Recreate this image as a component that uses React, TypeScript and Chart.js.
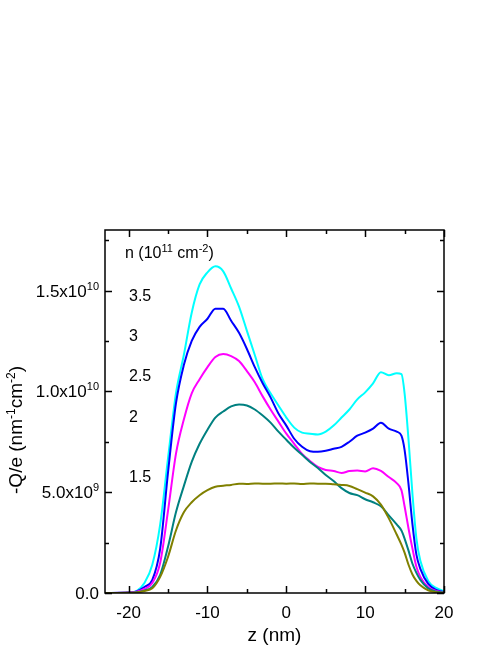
import { useEffect, useRef } from "react";
import { Chart, registerables } from "chart.js";

Chart.register(...registerables);

// z positions (nm), shared by all curves
const Z = [-23, -20, -19, -18, -17, -16, -15, -14, -13, -12, -11, -10, -9, -8, -7, -6, -5, -4, -3, -2, -1, 0,
  1, 2, 3, 4, 5, 6, 7, 8, 9, 10, 11, 12, 13, 14,
  14.6, 15, 15.5, 16, 16.5, 17, 18, 19, 20];

// -Q/e values in units of 1e9 nm^-1 cm^-2
const Q_15 = [0, 0.01, 0.03, 0.1, 0.23, 0.8, 1.8, 3.1, 4.0, 4.5, 4.85, 5.1, 5.27, 5.32, 5.36, 5.42, 5.41, 5.43, 5.42, 5.42, 5.43, 5.42,
  5.43, 5.41, 5.43, 5.42, 5.42, 5.39, 5.36, 5.31, 5.15, 4.98, 4.79, 4.38, 3.7, 2.9,
  2.4, 2.0, 1.4, 0.92, 0.6, 0.38, 0.13, 0.04, 0.01];
const Q_20 = [0, 0.01, 0.04, 0.12, 0.3, 0.9, 2.3, 4.0, 5.3, 6.5, 7.4, 8.1, 8.7, 9.0, 9.25, 9.35, 9.3, 9.1, 8.8, 8.45, 8.0, 7.6,
  7.2, 6.85, 6.5, 6.2, 5.85, 5.55, 5.2, 4.96, 4.85, 4.65, 4.5, 4.3, 3.85, 3.4,
  3.1, 2.7, 2.1, 1.45, 1.0, 0.65, 0.23, 0.07, 0.02];
const Q_25 = [0, 0.02, 0.06, 0.2, 0.5, 1.5, 4.1, 6.9, 8.6, 9.9, 10.6, 11.2, 11.7, 11.85, 11.75, 11.5, 11.0, 10.45, 9.75, 9.1, 8.5, 7.9,
  7.4, 6.9, 6.55, 6.25, 6.1, 6.05, 5.95, 6.05, 6.07, 6.03, 6.18, 6.05, 5.75, 5.45,
  5.1, 4.3, 3.2, 2.2, 1.3, 0.8, 0.3, 0.1, 0.03];
const Q_30 = [0, 0.02, 0.08, 0.3, 0.65, 2.2, 6.0, 9.4, 11.3, 12.5, 13.2, 13.6, 14.1, 14.1, 13.5, 12.9, 12.1, 11.2, 10.4, 9.7, 8.9, 8.3,
  7.65, 7.25, 7.03, 7.0, 7.05, 7.15, 7.25, 7.5, 7.8, 7.95, 8.15, 8.44, 8.15, 8.0,
  7.8, 7.1, 5.4, 3.4, 1.9, 1.2, 0.45, 0.15, 0.05];
const Q_35 = [0, 0.02, 0.1, 0.5, 1.4, 3.4, 6.7, 9.9, 11.8, 13.9, 15.3, 15.9, 16.2, 15.95, 15.1, 14.2, 13.0, 11.8, 10.6, 9.9, 9.3, 8.7,
  8.2, 7.95, 7.9, 7.86, 8.0, 8.3, 8.7, 9.1, 9.6, 9.95, 10.4, 10.95, 10.8, 10.9,
  10.85, 9.9, 7.6, 4.9, 2.7, 1.6, 0.6, 0.25, 0.1];

const DENSITY_LABELS = ["1.5", "2", "2.5", "3", "3.5"];
const X_MAJOR = [-20, -10, 0, 10, 20];
const X_MINOR = [-15, -5, 5, 15];
const X_TICK_TEXT = ["-20", "-10", "0", "10", "20"];
const Y_MAJOR = [0, 5, 10, 15];
const Y_MINOR = [2.5, 7.5, 12.5, 17.5];
const Y_TICK_MANTISSA = ["0.0", "5.0x10", "1.0x10", "1.5x10"];
const Y_TICK_EXP = ["", "9", "10", "10"];

const FONT = '"Liberation Sans", Arial, Helvetica, sans-serif';

type Part = { t: string; sup?: boolean };

function drawRich(
  ctx: CanvasRenderingContext2D,
  parts: Part[],
  x: number,
  y: number,
  align: "left" | "center" | "right",
  size: number,
  supSize: number,
  raise: number
) {
  let total = 0;
  const widths: number[] = [];
  for (const p of parts) {
    ctx.font = `${p.sup ? supSize : size}px ${FONT}`;
    const w = ctx.measureText(p.t).width;
    widths.push(w);
    total += w;
  }
  let cx = align === "left" ? x : align === "center" ? x - total / 2 : x - total;
  ctx.textAlign = "left";
  ctx.textBaseline = "alphabetic";
  parts.forEach((p, i) => {
    ctx.font = `${p.sup ? supSize : size}px ${FONT}`;
    ctx.fillText(p.t, cx, p.sup ? y - raise : y);
    cx += widths[i];
  });
}

const framePlugin = {
  id: "framePlugin",
  afterDraw(chart: any) {
    const { ctx, chartArea: a } = chart;
    const xs = chart.scales.x;
    const ys = chart.scales.y;
    ctx.save();
    ctx.strokeStyle = "#000";
    ctx.fillStyle = "#000";
    ctx.lineWidth = 1.5;
    ctx.strokeRect(a.left, a.top, a.right - a.left, a.bottom - a.top);

    const major = 7;
    const minor = 4;
    ctx.beginPath();
    const xTick = (v: number, len: number) => {
      const px = Math.round(xs.getPixelForValue(v)) + 0.5;
      ctx.moveTo(px, a.bottom);
      ctx.lineTo(px, a.bottom - len);
      ctx.moveTo(px, a.top);
      ctx.lineTo(px, a.top + len);
    };
    const yTick = (v: number, len: number) => {
      const py = Math.round(ys.getPixelForValue(v)) + 0.5;
      ctx.moveTo(a.left, py);
      ctx.lineTo(a.left + len, py);
      ctx.moveTo(a.right, py);
      ctx.lineTo(a.right - len, py);
    };
    X_MAJOR.forEach((v) => xTick(v, major));
    X_MINOR.forEach((v) => xTick(v, minor));
    Y_MAJOR.forEach((v) => yTick(v, major));
    Y_MINOR.forEach((v) => yTick(v, minor));
    ctx.stroke();

    // x tick labels
    ctx.font = `17px ${FONT}`;
    ctx.textAlign = "center";
    ctx.textBaseline = "alphabetic";
    X_MAJOR.forEach((v, i) => {
      ctx.fillText(X_TICK_TEXT[i], xs.getPixelForValue(v), a.bottom + 25);
    });

    // y tick labels
    Y_MAJOR.forEach((v, i) => {
      const py = ys.getPixelForValue(v) + 6;
      const parts: Part[] = [{ t: Y_TICK_MANTISSA[i] }];
      if (Y_TICK_EXP[i]) parts.push({ t: Y_TICK_EXP[i], sup: true });
      drawRich(ctx, parts, a.left - 6, py, "right", 17, 11, 7);
    });

    // x title
    drawRich(ctx, [{ t: "z (nm)" }], (a.left + a.right) / 2, a.bottom + 47.5, "center", 19, 12, 7);

    // y title
    ctx.save();
    ctx.translate(22, 430);
    ctx.rotate(-Math.PI / 2);
    drawRich(
      ctx,
      [
        { t: "-Q/e (nm" },
        { t: "-1", sup: true },
        { t: "cm" },
        { t: "-2", sup: true },
        { t: ")" },
      ],
      0,
      0,
      "center",
      19,
      12,
      7
    );
    ctx.restore();

    // annotation: density legend
    const lx = a.left + 20;
    drawRich(
      ctx,
      [{ t: "n (10" }, { t: "11", sup: true }, { t: " cm" }, { t: "-2", sup: true }, { t: ")" }],
      lx,
      a.top + 28,
      "left",
      16,
      11,
      6.5
    );
    const labelY = [476.7, 416.7, 375.7, 335, 295];
    DENSITY_LABELS.forEach((t, i) => {
      drawRich(ctx, [{ t }], a.left + 24, labelY[i] + 5.7, "left", 16, 11, 6);
    });
    ctx.restore();
  },
};

export default function App() {
  const ref = useRef<HTMLCanvasElement>(null);
  useEffect(() => {
    if (!ref.current) return;
    const mk = (vals: number[]) => Z.map((z, i) => ({ x: z, y: vals[i] }));
    const chart = new Chart(ref.current, {
      type: "line",
      data: {
        datasets: [
          { label: "1.5", data: mk(Q_15), borderColor: "#808000" },
          { label: "2", data: mk(Q_20), borderColor: "#008080" },
          { label: "2.5", data: mk(Q_25), borderColor: "#ff00ff" },
          { label: "3", data: mk(Q_30), borderColor: "#0000ff" },
          { label: "3.5", data: mk(Q_35), borderColor: "#00ffff" },
        ].map((d) => ({
          ...d,
          borderWidth: 2,
          pointRadius: 0,
          fill: false,
          cubicInterpolationMode: "monotone" as const,
        })),
      },
      options: {
        animation: false,
        responsive: false,
        maintainAspectRatio: false,
        layout: { padding: { left: 105, right: 54, top: 230, bottom: 52 } },
        plugins: { legend: { display: false }, tooltip: { enabled: false } },
        scales: {
          x: { type: "linear", min: -23, max: 20, display: false },
          y: { type: "linear", min: 0, max: 18, display: false },
        },
      },
      plugins: [framePlugin],
    });
    return () => chart.destroy();
  }, []);
  return (
    <div style={{ position: "fixed", left: 0, top: 0, width: 498, height: 645, background: "#fff" }}>
      <canvas ref={ref} width={498} height={645} style={{ display: "block" }} />
    </div>
  );
}
